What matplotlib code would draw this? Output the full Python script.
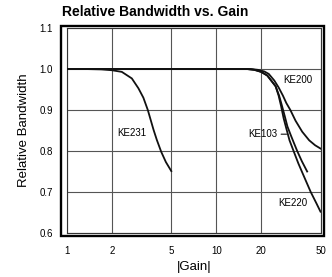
import matplotlib
matplotlib.use('Agg')
import matplotlib.pyplot as plt
from matplotlib.patches import Rectangle

plt.rcParams['font.family'] = ['Liberation Sans', 'DejaVu Sans']

# curves
ke231_gain = [1, 1.3, 1.7, 2.0, 2.33, 2.72, 3.01, 3.25, 3.48, 3.65, 3.8, 4.0, 4.28, 4.6, 5.0]
ke231_bw = [1.0, 1.0, 0.999, 0.997, 0.993, 0.977, 0.953, 0.93, 0.90, 0.874, 0.852, 0.827, 0.798, 0.773, 0.751]

ke200_gain = [1, 10, 17, 19, 21, 22.5, 24.5, 26.2, 28, 29.5, 31.4, 34, 37.7, 42, 46, 50]
ke200_bw = [1.0, 1.0, 1.0, 0.998, 0.994, 0.988, 0.972, 0.955, 0.935, 0.917, 0.90, 0.874, 0.847, 0.826, 0.814, 0.806]

ke103_gain = [1, 10, 16, 18, 20, 22, 25, 26.4, 27.6, 28.8, 30, 31.5, 32.8, 34.9, 37.5, 40.7]
ke103_bw = [1.0, 1.0, 1.0, 0.998, 0.993, 0.984, 0.958, 0.935, 0.91, 0.885, 0.86, 0.84, 0.824, 0.80, 0.775, 0.75]

ke220_gain = [1, 10, 16, 18, 20, 22, 25, 26.2, 27.2, 28.3, 29.5, 31, 33, 35.5, 38, 43, 47, 50]
ke220_bw = [1.0, 1.0, 1.0, 0.998, 0.993, 0.984, 0.958, 0.935, 0.91, 0.88, 0.855, 0.826, 0.80, 0.77, 0.745, 0.70, 0.672, 0.652]

x_ticks = [1, 2, 5, 10, 20, 50]
y_ticks = [0.6, 0.7, 0.8, 0.9, 1.0, 1.1]

fig = plt.figure(figsize=(3.32, 2.77), dpi=100)
ax = fig.add_axes([67/332, 44/277, 253.5/332, 205/277])

ax.set_xscale('log')
ax.set_xlim(1, 50)
ax.set_ylim(0.6, 1.1)
ax.set_xticks(x_ticks)
ax.set_xticklabels([str(t) for t in x_ticks])
ax.minorticks_off()
ax.set_yticks(y_ticks)
ax.set_yticklabels([f'{t:.1f}' for t in y_ticks])
ax.tick_params(length=0, labelsize=7, pad=10)
ax.tick_params(axis='x', pad=9)
ax.grid(True, color='#555555', lw=0.8)
for s in ax.spines.values():
    s.set_linewidth(0.8)
    s.set_color('#333333')

for g, b in [(ke231_gain, ke231_bw), (ke200_gain, ke200_bw),
             (ke103_gain, ke103_bw), (ke220_gain, ke220_bw)]:
    ax.plot(g, b, color='#111111', lw=1.3, solid_joinstyle='round', zorder=3)

ax.text(2.73, 0.844, 'KE231', fontsize=7, ha='center', va='center')
ax.text(35.0, 0.973, 'KE200', fontsize=7, ha='center', va='center')
ax.text(32.4, 0.673, 'KE220', fontsize=7, ha='center', va='center')
ax.annotate('KE103', xy=(29.6, 0.841), xytext=(20.4, 0.841), fontsize=7,
            ha='center', va='center',
            arrowprops=dict(arrowstyle='-', lw=0.8, color='#111111', shrinkA=1, shrinkB=0))

# outer double frame
ax.add_patch(Rectangle((-0.0217, -0.017), 1.0336, 1.029, transform=ax.transAxes,
                       fill=False, lw=1.7, ec='black', clip_on=False))

ax.set_xlabel('|Gain|', fontsize=9.5, labelpad=4)
ax.set_ylabel('Relative Bandwidth', fontsize=9.5, labelpad=7)
fig.text(62/332, 1 - 12/277, 'Relative Bandwidth vs. Gain', fontsize=10,
         fontweight='bold', ha='left', va='center')

fig.savefig('out.png', dpi=100)
